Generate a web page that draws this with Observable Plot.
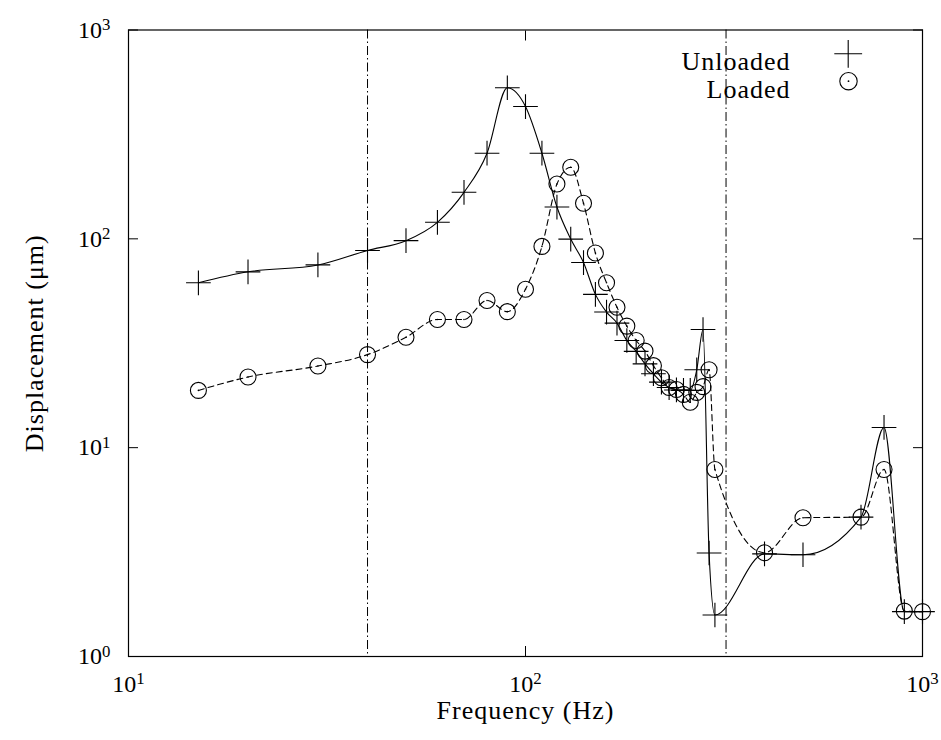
<!DOCTYPE html>
<html><head><meta charset="utf-8">
<script src="https://cdn.jsdelivr.net/npm/d3@7"></script>
<script src="https://cdn.jsdelivr.net/npm/@observablehq/plot@0.6"></script>
<style>
body{margin:0;background:#fff}
svg text{letter-spacing:1px}
svg g[aria-label$="tick label"] text{letter-spacing:0}
</style>
</head><body><div id="chart"></div>
<script>
const freq     = [15, 20, 30, 40, 50, 60, 70, 80, 90, 100, 110, 120, 130, 140, 150, 160, 170, 180, 190, 200, 210, 220, 230, 240, 250, 260, 270, 280, 290, 300, 400, 500, 700, 800, 900, 1000];
const unloaded = [61.6, 69.5, 75, 88, 98, 120, 167, 257, 529, 430, 257, 142, 99.7, 77, 54.2, 44.6, 39.5, 32.6, 28.9, 25.2, 22.6, 20.6, 19.4, 18.9, 18.8, 18.8, 23.6, 36.8, 3.13, 1.58, 3.1, 3.07, 4.65, 12.5, 1.64, 1.64];
const loaded   = [18.8, 21.8, 24.6, 27.9, 33.8, 41.1, 41.1, 50.7, 44.8, 57.4, 92, 183, 220, 148, 85.5, 61.6, 47, 38.2, 32.6, 29, 24.7, 21.6, 19.4, 19.0, 18.0, 16.5, 18.4, 19.6, 23.6, 7.86, 3.14, 4.62, 4.65, 7.86, 1.65, 1.64];
const guideFreqs = [40, 320];
const xTicks = [10, 100, 1000];
const yTicks = [1, 10, 100, 1000];
const seriesNames = ["Unloaded", "Loaded"];
const xLabel = "Frequency (Hz)";
const yLabel = "Displacement (\u03BCm)";

const U = freq.map((f, i) => ({f, v: unloaded[i]}));
const L = freq.map((f, i) => ({f, v: loaded[i]}));
const fmt = d => "10^" + Math.round(Math.log10(d));
const serif = "'Liberation Serif', serif";

const chart = Plot.plot({
  width: 941, height: 740,
  marginLeft: 128, marginRight: 19, marginTop: 29.5, marginBottom: 84,
  x: {type: "log", domain: [10, 1000]},
  y: {type: "log", domain: [1, 1000]},
  style: {fontFamily: serif, fontSize: "24px", color: "black", background: "white"},
  marks: [
    Plot.ruleX(guideFreqs, {stroke: "black", strokeWidth: 1, strokeDasharray: "9,3,1.5,3"}),
    Plot.axisX({anchor: "bottom", ticks: xTicks, tickSize: 10, dy: -10, tickFormat: () => "", label: null}),
    Plot.axisX({anchor: "top", ticks: xTicks, tickSize: 10, dy: 10, tickFormat: () => "", label: null}),
    Plot.axisY({anchor: "left", ticks: yTicks, tickSize: 10, dx: 10, tickFormat: () => "", label: null}),
    Plot.axisY({anchor: "right", ticks: yTicks, tickSize: 10, dx: -10, tickFormat: () => "", label: null}),
    Plot.axisX({anchor: "bottom", ticks: xTicks, tickSize: 0, tickPadding: 18.5, tickFormat: fmt, label: null, fontSize: 24, fontFamily: serif}),
    Plot.axisY({anchor: "left", ticks: yTicks, tickSize: 0, tickPadding: 18, tickFormat: fmt, label: null, fontSize: 24, fontFamily: serif}),
    Plot.frame({stroke: "black", strokeWidth: 1.2}),
    Plot.line(U, {x: "f", y: "v", curve: "monotone-x", stroke: "black", strokeWidth: 1.1}),
    Plot.line(L, {x: "f", y: "v", curve: "monotone-x", stroke: "black", strokeWidth: 1.1, strokeDasharray: "6,4"}),
    Plot.dot(U, {x: "f", y: "v", symbol: "plus", r: 8, stroke: "black", strokeWidth: 1.1}),
    Plot.dot(L, {x: "f", y: "v", symbol: "circle", r: 8, stroke: "black", fill: "none", strokeWidth: 1.1}),
    Plot.dot(L, {x: "f", y: "v", r: 0.8, fill: "black"}),
    Plot.text([seriesNames[0]], {text: d => d, frameAnchor: "top-right", dx: -132, dy: 21.5, textAnchor: "end", fontSize: 26, fontFamily: serif}),
    Plot.text([seriesNames[1]], {text: d => d, frameAnchor: "top-right", dx: -132, dy: 49.5, textAnchor: "end", fontSize: 26, fontFamily: serif}),
    Plot.dot([0], {frameAnchor: "top-right", dx: -74.3, dy: 23.8, symbol: "plus", r: 9, stroke: "black", strokeWidth: 1.1}),
    Plot.dot([0], {frameAnchor: "top-right", dx: -74, dy: 51.2, symbol: "circle", r: 8.7, stroke: "black", fill: "none", strokeWidth: 1.1}),
    Plot.dot([0], {frameAnchor: "top-right", dx: -74, dy: 51.2, r: 0.9, fill: "black"}),
    Plot.text([xLabel], {text: d => d, frameAnchor: "bottom", textAnchor: "middle", dy: 62.4, fontSize: 26, fontFamily: serif}),
    Plot.text([yLabel], {text: d => d, frameAnchor: "left", textAnchor: "middle", dx: -94, rotate: -90, fontSize: 26, fontFamily: serif})
  ]
});

chart.querySelectorAll("text").forEach(t => {
  const s = t.textContent;
  if (s.includes("^")) {
    const [b, e] = s.split("^");
    t.textContent = b;
    const ts = document.createElementNS("http://www.w3.org/2000/svg", "tspan");
    ts.setAttribute("dy", "-0.45em");
    ts.setAttribute("font-size", "0.7em");
    ts.textContent = e;
    t.appendChild(ts);
  }
});
document.getElementById("chart").appendChild(chart);
</script>
</body></html>
